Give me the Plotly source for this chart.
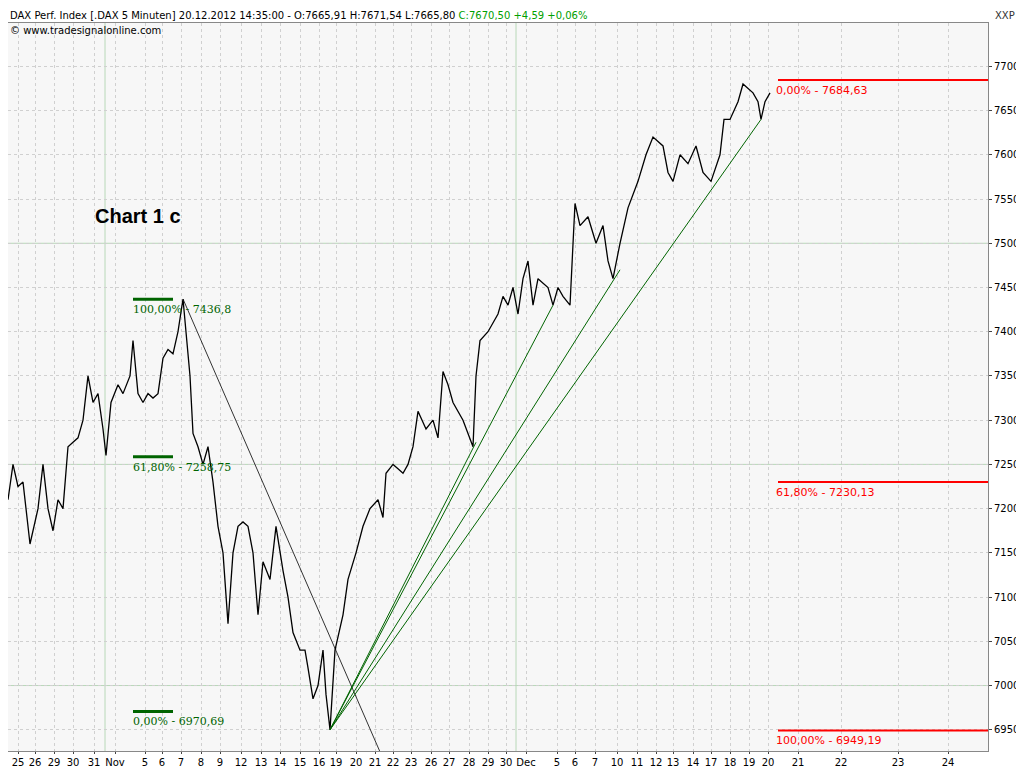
import plotly.graph_objects as go

# time coordinate t (chart units), price
t = [0,5,10,15,22,30,35,40,45,50,55,60,65,70,75,80,85,90,95,98,103,110,115,122,125,130,135,140,145,150,155,160,165,170,175,178,182,185,190,195,200,205,210,215,220,225,230,235,240,245,250,255,262,268,275,280,285,292,297,300,305,310,315,318,322,327,335,340,348,355,362,370,375,378,385,390,395,400,405,410,418,425,430,435,440,445,455,465,468,472,480,490,495,500,505,510,515,520,525,530,540,545,550,555,562,567,572,580,588,595,600,605,612,620,630,638,645,655,660,665,672,680,688,695,703,712,716,722,730,735,745,750,753,757,762]
price = [7210,7250,7225,7230,7160,7200,7250,7200,7175,7210,7200,7270,7275,7280,7300,7350,7320,7330,7290,7260,7320,7340,7330,7350,7390,7330,7320,7330,7325,7330,7370,7380,7375,7400,7437,7400,7350,7285,7270,7250,7270,7230,7180,7150,7070,7150,7180,7185,7180,7150,7080,7140,7120,7180,7130,7100,7060,7040,7040,7020,6985,7000,7040,6990,6950,7040,7080,7120,7150,7180,7200,7210,7190,7240,7250,7245,7240,7250,7270,7310,7290,7300,7280,7355,7340,7320,7300,7270,7350,7390,7400,7420,7440,7430,7450,7420,7460,7480,7430,7460,7450,7430,7450,7440,7430,7545,7520,7530,7500,7520,7480,7460,7500,7540,7570,7600,7620,7610,7580,7570,7600,7590,7610,7580,7570,7600,7640,7640,7660,7680,7670,7660,7640,7660,7670]

day_labels = ["25","26","29","30","31","Nov","5","6","7","8","9","12","13","14","15","16","19","20","21","22","23","26","27","28","29","30","Dec","5","6","7","10","11","12","13","14","17","18","19","20","21","22","23","24"]
day_pos = [10,27,46,65,86,107,137,154,173,193,212,233,253,272,292,311,328,348,367,385,403,423,441,461,480,498,518,549,567,587,609,629,648,665,685,703,722,741,760,790,833,890,940]

trend_t = [175, 372]; trend_p = [7437, 6925]
fan_start = (322, 6950)
fan_end_t = [468, 545, 612, 753]; fan_end_p = [7275, 7430, 7470, 7640]

fib_left_p = [7436.8, 7258.75, 6970.69]
fib_left_txt = ["100,00% - 7436,8", "61,80% - 7258,75", "0,00% - 6970,69"]
fib_right_p = [7684.63, 7230.13, 6949.19]
fib_right_txt = ["0,00% - 7684,63", "61,80% - 7230,13", "100,00% - 6949,19"]

fig = go.Figure()
for yv in [7500, 7250, 7000, 7750]:
    fig.add_shape(type="line", x0=0, x1=980, y0=yv, y1=yv, line=dict(color="#b8d8b8", width=1), layer="below")
for xv in [97, 508]:
    fig.add_shape(type="line", x0=xv, x1=xv, y0=6900, y1=7800, line=dict(color="#b8d8b8", width=1), layer="below")

fig.add_trace(go.Scatter(x=t, y=price, mode="lines", line=dict(color="black", width=1.3), hoverinfo="skip"))
fig.add_trace(go.Scatter(x=trend_t, y=trend_p, mode="lines", line=dict(color="black", width=0.8)))
for et, ep in zip(fan_end_t, fan_end_p):
    fig.add_trace(go.Scatter(x=[fan_start[0], et], y=[fan_start[1], ep], mode="lines", line=dict(color="#006400", width=1)))
for p, s in zip(fib_left_p, fib_left_txt):
    fig.add_trace(go.Scatter(x=[125, 165], y=[p, p], mode="lines", line=dict(color="#006400", width=3)))
    fig.add_annotation(x=123, y=p, text=s, showarrow=False, xanchor="left", yanchor="top", yshift=-2,
                       font=dict(color="#006400", size=11, family="DejaVu Serif"))
for p, s in zip(fib_right_p, fib_right_txt):
    fig.add_trace(go.Scatter(x=[770, 1010], y=[p, p], mode="lines", line=dict(color="red", width=2), cliponaxis=False))
    fig.add_annotation(x=766, y=p, text=s, showarrow=False, xanchor="left", yanchor="top", yshift=-2,
                       font=dict(color="red", size=11, family="DejaVu Sans"))

fig.add_annotation(x=85, y=7531, text="<b>Chart 1 c</b>", showarrow=False, xanchor="left",
                   font=dict(size=20, color="black", family="Arial, Liberation Sans"))
fig.add_annotation(xref="paper", yref="paper", x=0, y=1, yanchor="bottom", xanchor="left", yshift=0, showarrow=False,
                   text="<span style='color:black'>DAX Perf. Index [.DAX 5 Minuten] 20.12.2012 14:35:00 - O:7665,91 H:7671,54 L:7665,80 </span><span style='color:#00a000'>C:7670,50 +4,59 +0,06%</span>",
                   font=dict(size=10, family="DejaVu Sans"))
fig.add_annotation(xref="paper", yref="paper", x=0.0, y=1.0, yanchor="top", xanchor="left", showarrow=False,
                   text="© www.tradesignalonline.com", font=dict(size=10, color="black", family="DejaVu Sans"))
fig.add_annotation(xref="paper", yref="paper", x=1.005, y=1, yanchor="bottom", xanchor="left", yshift=0, showarrow=False,
                   text="XXP", font=dict(size=10, color="#333", family="DejaVu Sans"))

fig.update_layout(width=1016, height=760, margin=dict(l=0, r=36, t=15, b=17),
                  plot_bgcolor="#f7f7f7", paper_bgcolor="white", showlegend=False,
                  xaxis=dict(range=[0, 980], tickvals=day_pos, ticktext=day_labels, showgrid=True, automargin=False,
                             gridcolor="#d0d0d0", griddash="dot", zeroline=False, ticks="outside", ticklen=2,
                             tickfont=dict(size=10, family="DejaVu Sans", color="black"), showline=True, linecolor="#888", mirror=True),
                  yaxis=dict(range=[6926, 7749], side="right", dtick=50, showgrid=True, gridcolor="#d0d0d0", griddash="dot",
                             zeroline=False, ticks="outside", ticklen=3, tickformat="d", automargin=False,
                             tickfont=dict(size=10, family="DejaVu Sans", color="black"), showline=True, linecolor="#888", mirror=True))
fig.write_html("out.html")
